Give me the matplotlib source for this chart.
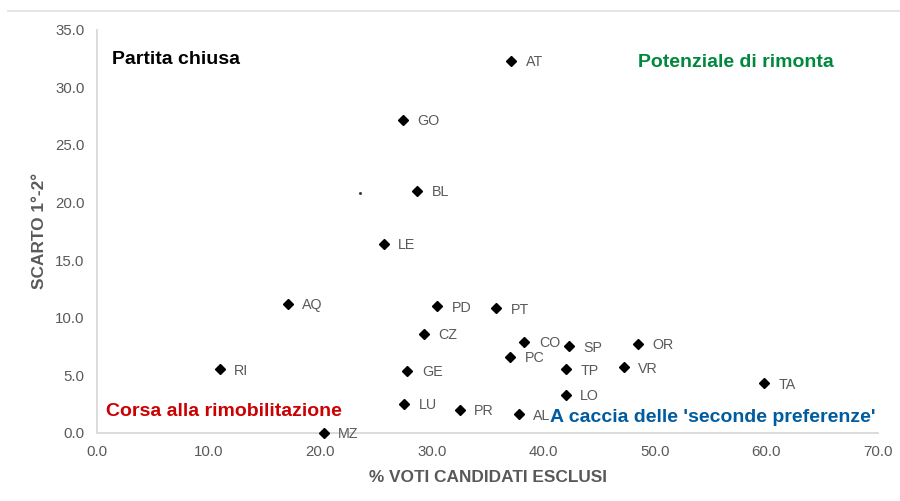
import matplotlib.pyplot as plt
from matplotlib.lines import Line2D

plt.rcParams['font.family'] = ['Liberation Sans', 'DejaVu Sans']

# capoluoghi: % voti ai candidati esclusi vs scarto tra 1° e 2°
sigle = ["AT", "GO", "BL", "LE", "AQ", "PD", "PT", "CZ", "CO", "SP", "OR", "PC",
         "TP", "VR", "RI", "GE", "TA", "LO", "LU", "PR", "AL", "MZ"]
voti_esclusi = [37.1, 27.4, 28.7, 25.7, 17.1, 30.5, 35.8, 29.3, 38.3, 42.3, 48.5, 37.0,
                42.0, 47.2, 11.0, 27.8, 59.8, 42.0, 27.5, 32.5, 37.8, 20.3]
scarto = [32.3, 27.2, 21.0, 16.4, 11.2, 11.0, 10.8, 8.6, 7.9, 7.5, 7.7, 6.6,
          5.5, 5.7, 5.5, 5.4, 4.3, 3.3, 2.5, 2.0, 1.6, 0.0]

# punto isolato senza etichetta
extra_x = [23.6]
extra_y = [20.8]

grey = "#595959"
axis_grey = "#d9d9d9"

fig = plt.figure(figsize=(9, 5.01), dpi=100)
ax = fig.add_axes([0.1078, 0.1363, 0.8678, 0.8040])

ax.plot(voti_esclusi, scarto, linestyle="none", marker="D", ms=5.6,
        color="black", zorder=3)
ax.plot(extra_x, extra_y, linestyle="none", marker="o", ms=1.2,
        color="#404040", zorder=3)

for s, x, y in zip(sigle, voti_esclusi, scarto):
    ax.annotate(s, (x, y), xytext=(10.5, -1), textcoords="offset points",
                ha="left", va="center", fontsize=10.3, color=grey, zorder=4)

# etichette dei quadranti
quad = dict(fontsize=14, fontweight="bold", va="center")
ax.text(1.35, 32.4, "Partita chiusa", color="black", ha="left", **quad)
ax.text(57.3, 32.2, "Potenziale di rimonta", color="#00883c", ha="center", **quad)
ax.text(0.8, 1.8, "Corsa alla rimobilitazione", color="#cc0000", ha="left", **quad)
ax.text(40.6, 1.3, "A caccia delle 'seconde preferenze'", color="#005c9e",
        ha="left", zorder=5, **quad)

ax.set_xlim(0, 70)
ax.set_ylim(0, 35)
ax.set_xticks(range(0, 71, 10))
ax.set_yticks(range(0, 36, 5))
ax.xaxis.set_major_formatter(plt.FuncFormatter(lambda v, p: f"{v:.1f}"))
ax.yaxis.set_major_formatter(plt.FuncFormatter(lambda v, p: f"{v:.1f}"))
ax.tick_params(length=0, labelsize=10.8, labelcolor=grey, pad=9)

for side in ["top", "right"]:
    ax.spines[side].set_visible(False)
for side in ["left", "bottom"]:
    ax.spines[side].set_color(axis_grey)
    ax.spines[side].set_linewidth(1.3)
for artist in ax.lines:
    artist.set_clip_on(False)

ax.set_xlabel("% VOTI CANDIDATI ESCLUSI", fontsize=12.4, fontweight="bold",
              color=grey, labelpad=8)
ax.set_ylabel("SCARTO 1°-2°", fontsize=12.4, fontweight="bold", color=grey,
              labelpad=6)

# bordo superiore dell'area grafico
fig.add_artist(Line2D([8 / 900, 1.0], [1 - 10.5 / 501, 1 - 10.5 / 501],
                      color="#e0e0e0", lw=1.2, transform=fig.transFigure))

fig.savefig("out.png", dpi=100)
